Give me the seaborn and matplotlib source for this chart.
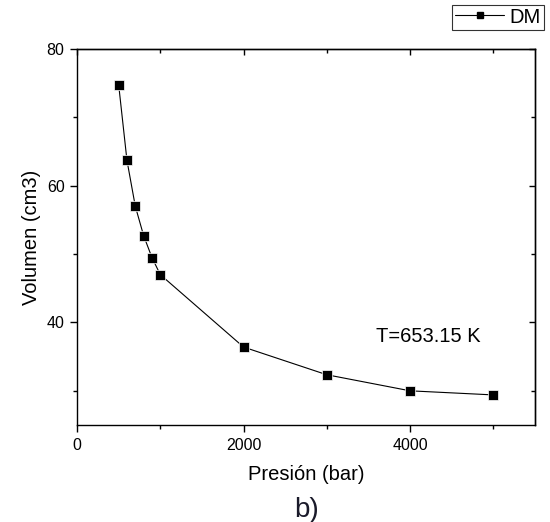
import matplotlib
matplotlib.use("Agg")
import matplotlib.pyplot as plt
import seaborn as sns
import pandas as pd
from matplotlib.ticker import MultipleLocator
from matplotlib.lines import Line2D

# Data
presion = [500, 600, 700, 800, 900, 1000, 2000, 3000, 4000, 5000]
volumen = [74.8, 63.7, 57.0, 52.7, 49.5, 47.0, 36.4, 32.35, 30.0, 29.4]
series_name = "DM"
annot_text = "T=653.15 K"
xlabel = "Presión (bar)"
ylabel = "Volumen (cm3)"
panel_label = "b)"

df = pd.DataFrame({"Presión": presion, "Volumen": volumen, "serie": series_name})

sns.set_style("ticks")
plt.rcParams["font.family"] = ["Liberation Sans", "DejaVu Sans"]
plt.rcParams["text.color"] = "black"
plt.rcParams["axes.labelcolor"] = "black"
plt.rcParams["xtick.color"] = "black"
plt.rcParams["ytick.color"] = "black"

fig = plt.figure(figsize=(5.5, 5.22), dpi=100)
ax = fig.add_axes([77/550, 1-425/522, (535-77)/550, (425-49)/522])

sns.lineplot(data=df, x="Presión", y="Volumen", ax=ax, color="black",
             linewidth=0.8, marker="s", markersize=7, markeredgecolor="white",
             markeredgewidth=0.5, markerfacecolor="black", legend=False)

ax.set_xlim(0, 5500)
ax.set_ylim(25, 80)
ax.xaxis.set_major_locator(MultipleLocator(2000))
ax.xaxis.set_minor_locator(MultipleLocator(1000))
ax.yaxis.set_major_locator(MultipleLocator(20))
ax.yaxis.set_minor_locator(MultipleLocator(10))

for s in ax.spines.values():
    s.set_visible(True)
    s.set_color("black")
    s.set_linewidth(1.0)

ax.tick_params(axis="both", which="major", direction="out", length=5, width=1,
               labelsize=11.5, colors="black", pad=4)
ax.tick_params(axis="both", which="minor", direction="out", length=3, width=1,
               colors="black")
ax.tick_params(axis="both", which="both", top=False, right=False)

# inward ticks on top/right
axt = ax.secondary_xaxis("top")
axt.xaxis.set_major_locator(MultipleLocator(2000))
axt.xaxis.set_minor_locator(MultipleLocator(1000))
axt.tick_params(which="major", direction="in", length=4.5, width=1, labeltop=False)
axt.tick_params(which="minor", direction="in", length=3, width=1)
axt.spines["top"].set_linewidth(1.0)
axr = ax.secondary_yaxis("right")
axr.yaxis.set_major_locator(MultipleLocator(20))
axr.yaxis.set_minor_locator(MultipleLocator(10))
axr.tick_params(which="major", direction="in", length=4.5, width=1, labelright=False)
axr.tick_params(which="minor", direction="in", length=3, width=1)
axr.spines["right"].set_linewidth(1.0)

ax.set_xlabel(xlabel, fontsize=14.5, labelpad=9, color="black")
ax.set_ylabel(ylabel, fontsize=14.5, labelpad=4, color="black")

ax.text(3590, 37.9, annot_text, fontsize=14.5, ha="left", va="center",
        color="black")

handle = Line2D([], [], color="black", linewidth=0.8, marker="s",
                markersize=5, markerfacecolor="black")
leg = fig.legend([handle], [series_name], loc="upper right",
                 bbox_to_anchor=(544/550, 1-4.5/522), fontsize=14.5,
                 frameon=True, fancybox=False, borderpad=0.15,
                 handlelength=2.4, handletextpad=0.3, borderaxespad=0)
leg.get_frame().set_edgecolor("black")
leg.get_frame().set_linewidth(0.8)
for t in leg.get_texts():
    t.set_color("black")

fig.text(307/550, 1-510/522, panel_label, fontsize=20, ha="center",
         va="center", color="#1a1a2a")

fig.savefig("out.png", dpi=100)
